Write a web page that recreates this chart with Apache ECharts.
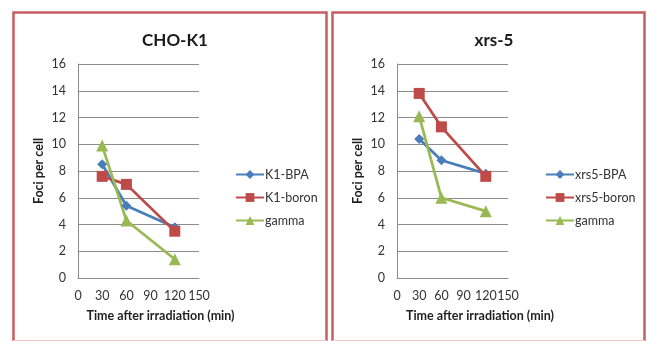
<!DOCTYPE html>
<html><head><meta charset="utf-8">
<script src="https://cdn.jsdelivr.net/npm/echarts@6/dist/echarts.min.js"></script>
<style>html,body{margin:0;padding:0;background:#fff}#c{width:647px;height:341px}</style>
</head><body><div id="c"></div>
<script>
var times = [30, 60, 120];
var xTicks = [0, 30, 60, 90, 120, 150];
var yTicks = [0, 2, 4, 6, 8, 10, 12, 14, 16];
var titles = ['CHO-K1', 'xrs-5'];
var k1Names = ['K1-BPA', 'K1-boron', 'gamma'];
var xrsNames = ['xrs5-BPA', 'xrs5-boron', 'gamma'];
var k1BPA = [8.5, 5.4, 3.8];
var k1Boron = [7.6, 7.0, 3.5];
var k1Gamma = [9.9, 4.3, 1.4];
var xrsBPA = [10.4, 8.8, 7.8];
var xrsBoron = [13.8, 11.3, 7.6];
var xrsGamma = [12.1, 6.0, 5.0];

var FONT = 'Lato';
var colors = ['#4a7ebb', '#be4b48', '#98b954'];
var symbols = ['diamond', 'rect', 'triangle'];
var symSizes = [10, 11, 12];

function pairs(vals) { return times.map(function (t, i) { return [t, vals[i]]; }); }

function mkSeries(names, sets, idx) {
  return sets.map(function (vals, i) {
    return {
      type: 'line', name: names[i], xAxisIndex: idx, yAxisIndex: idx,
      data: pairs(vals), symbol: symbols[i], symbolSize: symSizes[i],
      lineStyle: { color: colors[i], width: 2.75 },
      itemStyle: { color: colors[i] },
      animation: false
    };
  });
}

function xAxis(idx, padLeft) {
  return {
    type: 'value', gridIndex: idx, min: 0, max: 150, interval: 30,
    axisLine: { show: true, lineStyle: { color: '#8c8c8c', width: 1 } },
    axisTick: { show: false },
    splitLine: { show: false },
    axisLabel: { fontFamily: FONT, fontSize: 12.5, color: '#333', margin: 11 },
    name: 'Time after irradiation (min)', nameLocation: 'middle', nameGap: 31,
    nameTextStyle: { fontFamily: FONT, fontSize: 12.5, fontWeight: 'bold', color: '#1f1f1f', padding: [0, 0, 0, padLeft] }
  };
}
function yAxis(idx) {
  return {
    type: 'value', gridIndex: idx, min: 0, max: 16, interval: 2,
    axisLine: { show: true, lineStyle: { color: '#8c8c8c', width: 1 } },
    axisTick: { show: false },
    splitLine: { show: true, lineStyle: { color: '#8c8c8c', width: 1 } },
    axisLabel: { fontFamily: FONT, fontSize: 12.5, color: '#333', margin: 12 },
    name: 'Foci per cell', nameLocation: 'middle', nameGap: 33,
    nameTextStyle: { fontFamily: FONT, fontSize: 12.5, fontWeight: 'bold', color: '#1f1f1f' }
  };
}

var chart = echarts.init(document.getElementById('c'), null, { renderer: 'canvas' });
chart.setOption({
  backgroundColor: '#fff',
  animation: false,
  title: [
    { text: titles[0], left: 170, top: 27, textAlign: 'center',
      textStyle: { fontFamily: FONT, fontSize: 17, fontWeight: 'bold', color: '#1a1a1a' } },
    { text: titles[1], left: 489, top: 27, textAlign: 'center',
      textStyle: { fontFamily: FONT, fontSize: 17, fontWeight: 'bold', color: '#1a1a1a' } }
  ],
  graphic: [
    { type: 'rect', shape: { x: 13.5, y: 12.5, width: 313, height: 345 }, style: { fill: 'none', stroke: '#c65f5f', lineWidth: 2.5 } },
    { type: 'rect', shape: { x: 332.5, y: 12.5, width: 312, height: 345 }, style: { fill: 'none', stroke: '#c65f5f', lineWidth: 2.5 } },
    { type: 'line', shape: { x1: 13, y1: 340.5, x2: 327, y2: 340.5 }, style: { stroke: '#f0c4c4', lineWidth: 1 } },
    { type: 'line', shape: { x1: 332, y1: 340.5, x2: 645, y2: 340.5 }, style: { stroke: '#f0c4c4', lineWidth: 1 } }
  ],
  legend: [
    { data: k1Names, orient: 'vertical', left: 230, top: 163, itemGap: 10, itemWidth: 28, itemHeight: 11,
      textStyle: { fontFamily: FONT, fontSize: 12.5, color: '#333', padding: [0, 0, 0, -4] } },
    { data: xrsNames, orient: 'vertical', left: 540, top: 163, itemGap: 10, itemWidth: 28, itemHeight: 11,
      textStyle: { fontFamily: FONT, fontSize: 12.5, color: '#333', padding: [0, 0, 0, -4] } }
  ],
  grid: [
    { left: 78, top: 64, width: 121, height: 214 },
    { left: 397, top: 64, width: 111, height: 214 }
  ],
  xAxis: [xAxis(0, 44), xAxis(1, 55)],
  yAxis: [yAxis(0), yAxis(1)],
  series: mkSeries(k1Names, [k1BPA, k1Boron, k1Gamma], 0)
    .concat(mkSeries(xrsNames, [xrsBPA, xrsBoron, xrsGamma], 1))
});
</script></body></html>
